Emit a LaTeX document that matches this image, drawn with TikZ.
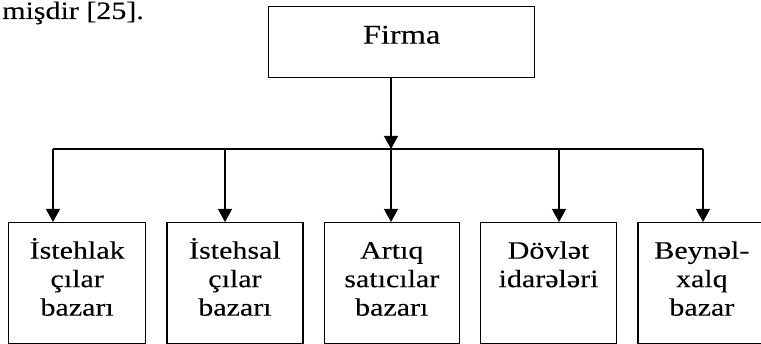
\documentclass[tikz,border=0pt]{standalone}
\usepackage{fontspec}
\setmainfont{Liberation Serif}[FakeStretch=1.2,FakeBold=0.15]
\usepackage{tikz}
\usetikzlibrary{arrows.meta,positioning}

\begin{document}
\begin{tikzpicture}[x=1pt,y=-1pt,
  market/.style={draw, line width=1.3pt, inner sep=0pt, align=center,
    text height=36pt, text depth=85pt, font=\fontsize{25}{28.5}\selectfont},
  tip/.style={-{Triangle[width=14pt,length=13pt]}, line width=1.3pt}]
  \clip (0,0) rectangle (761,344);
  \node[anchor=base west, inner sep=0pt, font=\fontsize{25}{30}\selectfont] (prev) at (2,19) {mişdir [25].};
  \node[draw, line width=1.3pt, inner sep=0pt, anchor=north west, text width=266pt, align=center,
    text height=37pt, text depth=34pt, font=\fontsize{27}{30}\selectfont] (firma) at (268,6) {Firma};
  \node[market, anchor=north west, text width=137pt] (m1) at (8,222) {İstehlak\\çılar\\bazarı};
  \node[market, text width=136pt, right=20pt of m1] (m2) {İstehsal\\çılar\\bazarı};
  \node[market, text width=135pt, right=20pt of m2] (m3) {Artıq\\satıcılar\\bazarı};
  \node[market, text width=136pt, right=20pt of m3] (m4) {Dövlət\\idarələri};
  \node[market, text width=128pt, right=20pt of m4] (m5) {Beynəl-\\xalq\\bazar};
  \coordinate (hub) at (391,149);
  \coordinate (jm1) at (53,149);
  \coordinate (jm2) at (225,149);
  \coordinate (jm3) at (391,149);
  \coordinate (jm4) at (559,149);
  \coordinate (jm5) at (703,149);
  \draw[tip] (firma.south -| hub) -- (hub);
  \draw[line width=1.3pt] (jm1) -- (jm5);
  \foreach \m in {m1,m2,m3,m4,m5}
    \draw[tip] (j\m) -- (j\m |- \m.north);
\end{tikzpicture}
\end{document}
